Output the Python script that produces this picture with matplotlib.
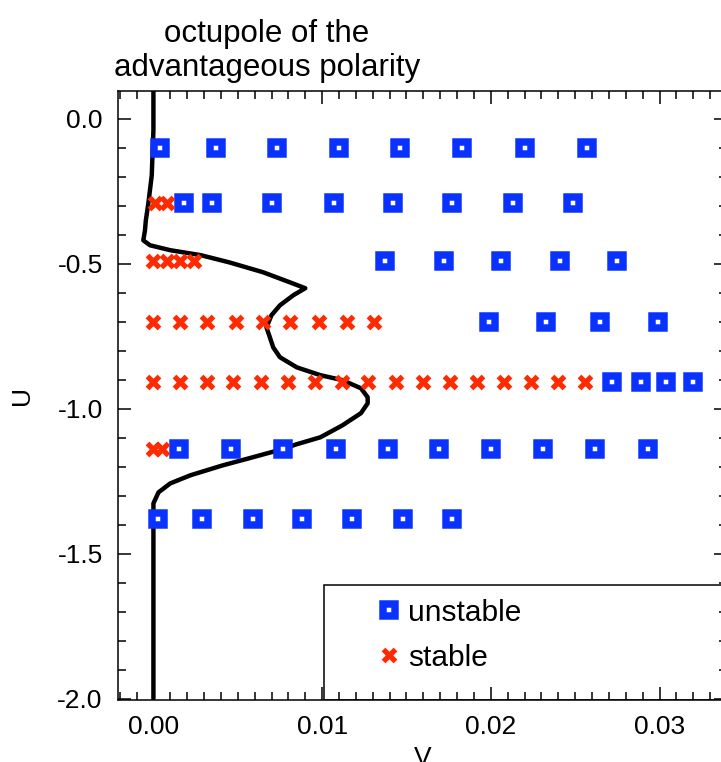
import matplotlib
matplotlib.use("Agg")
import matplotlib.pyplot as plt
import matplotlib.patches as patches
from matplotlib.ticker import MultipleLocator, FormatStrFormatter

plt.rcParams['font.family'] = ['Liberation Sans', 'DejaVu Sans']
plt.rcParams['axes.unicode_minus'] = False

# rows of U, with V values of unstable (squares) and stable (crosses) runs
rows_u = [-0.10, -0.29, -0.49, -0.70, -0.91, -1.14, -1.38]

unstable_v = [
    [0.0004, 0.0037, 0.0073, 0.0110, 0.0146, 0.0183, 0.0220, 0.0257],
    [0.0018, 0.0035, 0.0070, 0.0107, 0.0142, 0.0177, 0.0213, 0.0249],
    [0.0137, 0.0172, 0.0206, 0.0241, 0.0275],
    [0.0199, 0.0233, 0.0265, 0.0299],
    [0.0272, 0.0289, 0.0304, 0.0320],
    [0.0015, 0.0046, 0.0077, 0.0108, 0.0139, 0.0169, 0.0200, 0.0231, 0.0262, 0.0293],
    [0.0003, 0.0029, 0.0059, 0.0088, 0.0118, 0.0148, 0.0177],
]

stable_v = [
    [],
    [0.0001, 0.0008],
    [0.0000, 0.0008, 0.0016, 0.0024],
    [0.0000, 0.0016, 0.0032, 0.0049, 0.0065, 0.0081, 0.0098, 0.0115, 0.0131],
    [0.0000, 0.0016, 0.0032, 0.0047, 0.0064, 0.0080, 0.0096, 0.0112, 0.0127,
     0.0144, 0.0160, 0.0176, 0.0192, 0.0208, 0.0224, 0.0240, 0.0256],
    [0.0000, 0.0005],
    [],
]

# black curve
curve_u = [0.094, -0.040, -0.196, -0.292, -0.351, -0.385, -0.420, -0.437, -0.454,
           -0.471, -0.496, -0.530, -0.565, -0.585, -0.609, -0.644, -0.678, -0.720,
           -0.754, -0.789, -0.823, -0.858, -0.885, -0.902, -0.930, -0.961, -0.982,
           -1.016, -1.058, -1.099, -1.123, -1.144, -1.171, -1.196, -1.230, -1.258,
           -1.289, -1.327, -2.0]
curve_v = [0.0, 0.0, -0.0001, -0.0003, -0.00045, -0.0005, -0.0006, -0.0002, 0.0010,
           0.0028, 0.0045, 0.0065, 0.0081, 0.0090, 0.0083, 0.0075, 0.0070, 0.0067,
           0.0069, 0.0071, 0.0075, 0.0085, 0.0099, 0.0112, 0.0123, 0.0127, 0.0127,
           0.0123, 0.0112, 0.0099, 0.0085, 0.0074, 0.0057, 0.0041, 0.0022, 0.0010,
           0.0003, 0.0, 0.0]

blue = '#0a32ff'
red = '#ff2a00'

fig = plt.figure(figsize=(7.21, 7.62), dpi=100)
ax = fig.add_axes([118 / 721, 62 / 762, 609 / 721, 609 / 762])

ax.plot(curve_v, curve_u, color='black', lw=3.2, zorder=2,
        solid_joinstyle='round', solid_capstyle='round')

first = True
for u, vs in zip(rows_u, unstable_v):
    ax.plot(vs, [u] * len(vs), ls='none', marker='s', ms=9.2, mew=5.4,
            mec=blue, mfc='white', zorder=3, label='unstable' if first else None)
    first = False
first = True
for u, vs in zip(rows_u, stable_v):
    if not vs:
        continue
    ax.plot(vs, [u] * len(vs), ls='none', marker='x', ms=9.2, mew=3.8,
            color=red, zorder=3, label='stable' if first else None)
    first = False

ax.set_xlim(-0.0021, 0.034)
ax.set_ylim(-2.005, 0.095)

ax.xaxis.set_major_locator(MultipleLocator(0.01))
ax.xaxis.set_minor_locator(MultipleLocator(0.001))
ax.yaxis.set_major_locator(MultipleLocator(0.5))
ax.yaxis.set_minor_locator(MultipleLocator(0.1))
ax.xaxis.set_major_formatter(FormatStrFormatter('%.2f'))
ax.yaxis.set_major_formatter(FormatStrFormatter('%.1f'))

ax.tick_params(which='both', direction='in', top=True, right=True,
               width=1.1, labelsize=19, pad=11)
ax.tick_params(which='major', length=9.4)
ax.tick_params(which='minor', length=5.8)
for s in ax.spines.values():
    s.set_linewidth(1.1)

ax.set_xlabel('V', fontsize=19, labelpad=5)
ax.set_ylabel('U', fontsize=19, labelpad=17)

box = patches.Rectangle((0.339, 0.0), 0.8, 0.189, transform=ax.transAxes,
                        fill=False, lw=1.1, edgecolor='black', zorder=1)
ax.add_patch(box)

ax.legend(loc='center left', bbox_to_anchor=(0.4305, 0.1067), frameon=False,
          fontsize=21.5, handlelength=0.6, handletextpad=0.32, labelspacing=0.57,
          borderpad=0, borderaxespad=0, numpoints=1)

title_font = ['Liberation Sans Narrow', 'Liberation Sans']
fig.text(267 / 721, 1 - 42 / 762, 'octupole of the', ha='center', va='baseline',
         fontsize=22.5, family=title_font)
fig.text(267 / 721, 1 - 76 / 762, 'advantageous polarity', ha='center', va='baseline',
         fontsize=22.5, family=title_font)

fig.savefig('out.png', dpi=100)
